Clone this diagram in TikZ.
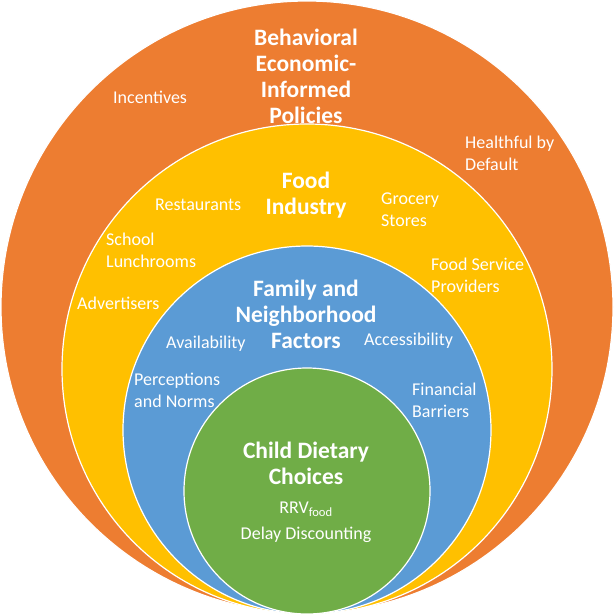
\documentclass[tikz,border=0pt]{standalone}
\usepackage{fontspec}
\setmainfont{Carlito}
\usepackage{xcolor}
\usepackage{tikz}
\usetikzlibrary{positioning}

\definecolor{policyorange}{HTML}{ED7D31}
\definecolor{industryyellow}{HTML}{FFC000}
\definecolor{familyblue}{HTML}{5B9BD5}
\definecolor{childgreen}{HTML}{70AD47}

\begin{document}
\begin{tikzpicture}[
    x=1pt, y=-1pt,
    ring/.style={draw=white, line width=1.2pt},
    heading/.style={text=white, align=center, inner sep=0pt, font=\bfseries\fontsize{23.5}{26}\selectfont},
    factor/.style={text=white, align=left, inner sep=0pt, font=\fontsize{18}{22}\selectfont},
    every node/.style={font=\rmfamily}
]
\useasboundingbox (0,0) rectangle (614,614);

% Rings
\fill[policyorange, ring] (307,307) circle[radius=306pt];
\fill[industryyellow, ring] (307,369) circle[radius=245pt];
\fill[familyblue, ring] (307,430) circle[radius=184pt];
\fill[childgreen, ring] (307,491) circle[radius=123pt];

% Policies
\node[heading] (policies) at (306,76) {Behavioral\\Economic-\\Informed\\Policies};
\node[factor, anchor=west] (incentives) at (113,97) {Incentives};
\node[factor, anchor=west] (default) at (465,153) {Healthful by\\Default};

% Food industry
\node[heading] (industry) at (306,195) {Food\\Industry};
\node[factor, anchor=west] (restaurants) at (155,205) {Restaurants};
\node[factor, anchor=west] (grocery) at (381,210) {Grocery\\Stores};
\node[factor, anchor=west] (lunchrooms) at (106,250) {School\\Lunchrooms};
\node[factor, anchor=west] (service) at (431,275) {Food Service\\Providers};
\node[factor, anchor=west] (advertisers) at (77,303) {Advertisers};

% Family and neighborhood
\node[heading] (family) at (306,314) {Family and\\Neighborhood\\Factors};
\node[factor, anchor=west] (availability) at (166,344) {Availability};
\node[factor, anchor=west] (accessibility) at (364,341) {Accessibility};
\node[factor, anchor=west] (norms) at (134,390) {Perceptions\\and Norms};
\node[factor, anchor=west] (barriers) at (412,400) {Financial\\Barriers};

% Child
\node[heading] (child) at (306,463) {Child Dietary\\Choices};
\node[factor, align=center] (rrv) at (306,509) {RRV\textsubscript{food}};
\node[factor, align=center] (discounting) at (306,535) {Delay Discounting};

\end{tikzpicture}
\end{document}
